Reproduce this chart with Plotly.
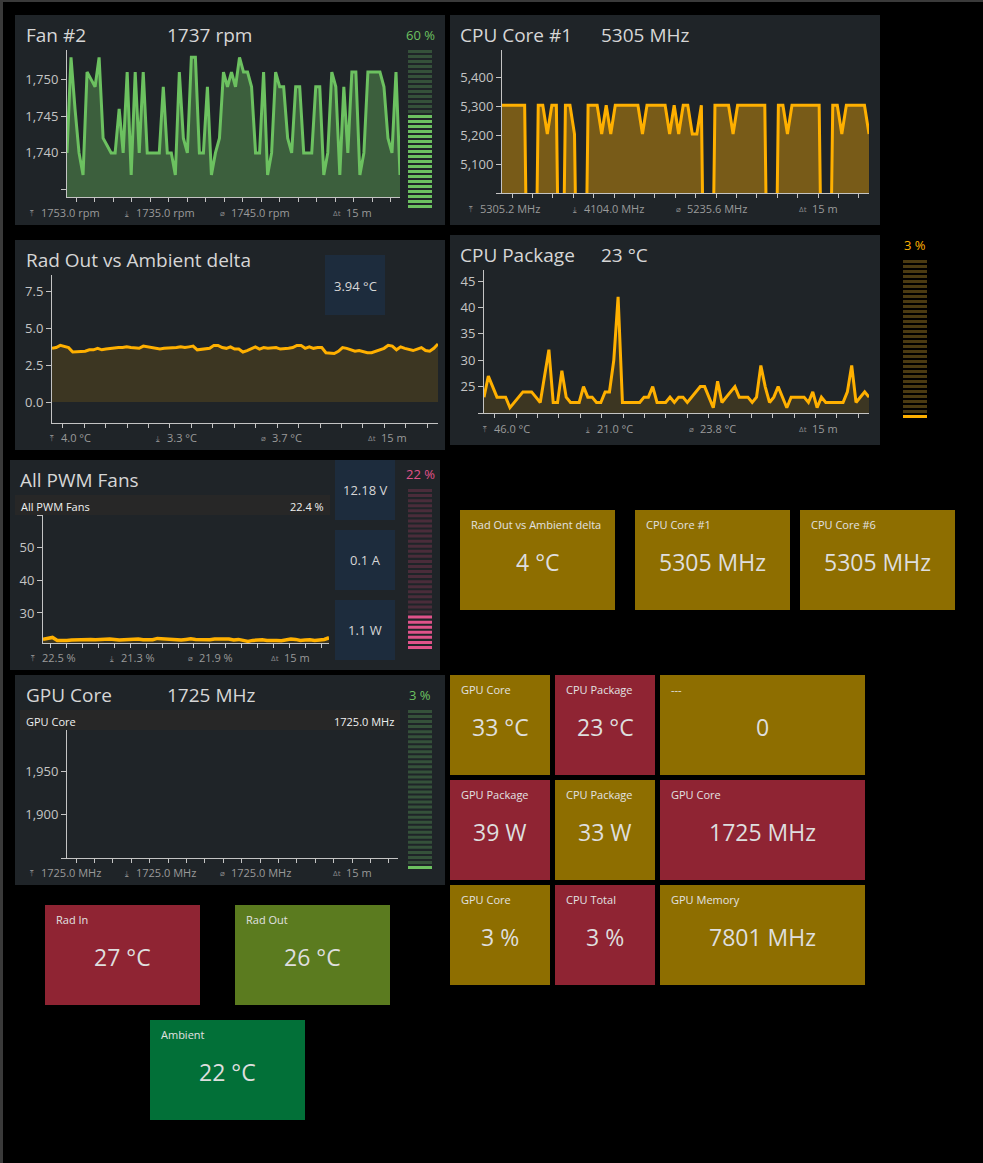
import plotly.graph_objects as go

W, H = 983, 1163
FONT = "Open Sans"
SPAN_S = 900  # 15 minutes of history in every chart

# ---------------- data ----------------
fan2_rpm = [1740, 1753, 1746, 1740, 1737, 1751, 1750, 1749, 1753, 1742, 1741, 1740, 1740, 1746,
            1740, 1751, 1737, 1751, 1740, 1751, 1740, 1740, 1740, 1740, 1749, 1740, 1740, 1737,
            1751, 1742, 1740, 1753, 1753, 1740, 1740, 1749, 1737, 1740, 1742, 1751, 1749, 1751,
            1749, 1753, 1751, 1751, 1749, 1740, 1740, 1751, 1737, 1740, 1751, 1749, 1749, 1742,
            1740, 1749, 1749, 1740, 1740, 1740, 1749, 1749, 1737, 1740, 1751, 1749, 1737, 1749,
            1740, 1751, 1751, 1737, 1740, 1751, 1751, 1751, 1751, 1749, 1742, 1740, 1751, 1737]
fan2_stats = ["1753.0 rpm", "1735.0 rpm", "1745.0 rpm", "15 m"]

cpu_core1_mhz = [5305, 5305, 5305, 5305, 5305, 5305, 4104, 4104, 5305, 5305, 5205, 5305, 5305,
                 4104, 5305, 5305, 5205, 4104, 4104, 5305, 5305, 5305, 5205, 5305, 5205, 5305,
                 5305, 5305, 5305, 5305, 5305, 5205, 5305, 5305, 5305, 5305, 5305, 5205, 5305,
                 5205, 5305, 5305, 5205, 5205, 5305, 4104, 4104, 5305, 5305, 5305, 5305, 5205,
                 5305, 5305, 5305, 5305, 5305, 5305, 5305, 4104, 4104, 5305, 5305, 5205, 5305,
                 5305, 5305, 5305, 5305, 5305, 5305, 4104, 4104, 5305, 5305, 5205, 5305, 5305,
                 5305, 5305, 5305, 5205]
cpu_core1_stats = ["5305.2 MHz", "4104.0 MHz", "5235.6 MHz", "15 m"]

rad_delta_c = [3.65, 3.7, 3.85, 3.8, 3.7, 3.4, 3.4, 3.4, 3.45, 3.55, 3.55, 3.65, 3.55, 3.6, 3.65,
               3.7, 3.7, 3.7, 3.75, 3.7, 3.7, 3.65, 3.8, 3.75, 3.75, 3.7, 3.6, 3.65, 3.65, 3.7,
               3.7, 3.75, 3.7, 3.75, 3.8, 3.55, 3.6, 3.6, 3.65, 3.85, 3.85, 3.7, 3.65, 3.75, 3.6,
               3.6, 3.4, 3.5, 3.65, 3.75, 3.6, 3.7, 3.65, 3.65, 3.7, 3.6, 3.6, 3.65, 3.7, 3.85,
               3.85, 3.65, 3.75, 3.65, 3.7, 3.7, 3.35, 3.3, 3.3, 3.45, 3.7, 3.65, 3.55, 3.45, 3.5,
               3.4, 3.35, 3.35, 3.45, 3.6, 3.65, 3.85, 3.8, 3.55, 3.75, 3.65, 3.55, 3.5, 3.6,
               3.7, 3.5, 3.45, 3.65, 3.95]
rad_delta_stats = ["4.0 °C", "3.3 °C", "3.7 °C", "15 m"]

cpu_package_c = [23, 27, 25, 23, 23, 23, 21, 22, 23, 24, 24, 24, 23, 22, 27, 32, 22, 22, 28, 23,
                 22, 22, 22, 25, 23, 23, 22, 22, 24, 24, 30, 42, 22, 22, 22, 22, 22, 23, 23, 25,
                 22, 22, 22, 23, 22, 23, 23, 22, 23, 24, 25, 25, 23, 21, 26, 22, 23, 24, 25, 23,
                 23, 23, 22, 23, 29, 25, 22, 23, 25, 23, 21, 23, 23, 23, 23, 22, 24, 21, 23, 22,
                 22, 22, 22, 22, 24, 29, 22, 23, 24, 23]
cpu_package_stats = ["46.0 °C", "21.0 °C", "23.8 °C", "15 m"]

pwm_fans_pct = [21.9, 22.3, 22.5, 21.6, 21.5, 21.6, 21.7, 21.8, 21.8, 21.9, 21.9, 21.8, 21.9,
                22.0, 22.0, 21.9, 21.7, 21.8, 21.9, 21.9, 22.0, 21.8, 21.7, 21.8, 22.2, 22.1,
                21.8, 21.8, 21.6, 21.7, 21.9, 22.1, 21.9, 21.8, 21.9, 21.8, 22.0, 22.0, 21.9,
                22.0, 21.7, 21.9, 21.6, 21.3, 21.6, 21.8, 21.8, 21.6, 21.7, 21.6, 21.5, 21.7,
                22.0, 21.9, 21.6, 21.7, 21.8, 21.6, 21.7, 21.9, 22.4]
pwm_fans_stats = ["22.5 %", "21.3 %", "21.9 %", "15 m"]
pwm_readouts = ["12.18 V", "0.1 A", "1.1 W"]

gpu_core_mhz = [1725.0, 1725.0, 1725.0, 1725.0, 1725.0, 1725.0, 1725.0, 1725.0, 1725.0, 1725.0,
                1725.0, 1725.0, 1725.0, 1725.0, 1725.0, 1725.0, 1725.0, 1725.0, 1725.0, 1725.0]
gpu_core_stats = ["1725.0 MHz", "1725.0 MHz", "1725.0 MHz", "15 m"]

gauge_pct = [60, 3, 22, 3]  # fan #2, cpu total, pwm fans, gpu core

tile_labels = ["Rad Out vs Ambient delta", "CPU Core #1", "CPU Core #6",
               "GPU Core", "CPU Package", "---",
               "GPU Package", "CPU Package", "GPU Core",
               "GPU Core", "CPU Total", "GPU Memory",
               "Rad In", "Rad Out", "Ambient"]
tile_values = ["4 °C", "5305 MHz", "5305 MHz",
               "33 °C", "23 °C", "0",
               "39 W", "33 W", "1725 MHz",
               "3 %", "3 %", "7801 MHz",
               "27 °C", "26 °C", "22 °C"]

# ---------------- styles ----------------
BG = "#000000"
PANEL = "#1f2428"
BOX = "#1d2c3d"
STRIP = "#272727"
AXIS = "#c4c4c4"
TXT = "#d6d6d6"
STAT = "#9a9a9a"
AMBER = "#ffb000"
GREEN = "#6cc160"
PINK = "#e0528a"
T_AMBER = "#8e6e00"
T_RED = "#8f2433"
T_OLIVE = "#5b7b1f"
T_GREEN = "#027038"

tile_colors = [T_AMBER, T_AMBER, T_AMBER,
               T_AMBER, T_RED, T_AMBER,
               T_RED, T_AMBER, T_RED,
               T_AMBER, T_RED, T_AMBER,
               T_RED, T_OLIVE, T_GREEN]
tile_boxes = [(460, 510, 615, 610), (635, 510, 790, 610), (800, 510, 955, 610),
              (450, 675, 550, 775), (555, 675, 655, 775), (660, 675, 865, 775),
              (450, 780, 550, 880), (555, 780, 655, 880), (660, 780, 865, 880),
              (450, 885, 550, 985), (555, 885, 655, 985), (660, 885, 865, 985),
              (45, 905, 200, 1005), (235, 905, 390, 1005), (150, 1020, 305, 1120)]


def px(x):
    return x / W


def py(y):
    return 1 - y / H


fig = go.Figure()
shapes = []
annotations = []
n_axes = 0


def rect(x0, y0, x1, y1, color):
    shapes.append(dict(type="rect", xref="paper", yref="paper", layer="below",
                       x0=px(x0), x1=px(x1), y0=py(y1), y1=py(y0),
                       fillcolor=color, line=dict(width=0)))


def text(x, y, s, size, color, anchor="left"):
    annotations.append(dict(x=px(x), y=py(y), xref="paper", yref="paper", text=s,
                            showarrow=False, xanchor=anchor, yanchor="middle",
                            font=dict(size=size, color=color, family=FONT)))


def axis_names():
    global n_axes
    n_axes += 1
    s = "" if n_axes == 1 else str(n_axes)
    return "x" + s, "y" + s, "xaxis" + s, "yaxis" + s


def add_chart(box, values, yrange, tickvals, ticktext, color, fill, width=3):
    x0, y0, x1, y1 = box
    xr, yr, xa, ya = axis_names()
    xs = [i * SPAN_S / (len(values) - 1) for i in range(len(values))]
    fig.add_trace(go.Scatter(x=xs, y=values, mode="lines", xaxis=xr, yaxis=yr,
                             line=dict(color=color, width=width),
                             fill="tozeroy", fillcolor=fill, hoverinfo="skip"))
    fig.update_layout(**{
        xa: dict(domain=[px(x0), px(x1)], anchor=yr, range=[0, SPAN_S],
                 showgrid=False, zeroline=False, showline=True, linecolor=AXIS,
                 linewidth=1, ticks="outside", ticklen=4, tickcolor=AXIS,
                 tick0=25, dtick=50, showticklabels=False, fixedrange=True),
        ya: dict(domain=[py(y1), py(y0)], anchor=xr, range=yrange,
                 showgrid=False, zeroline=False, showline=True, linecolor=AXIS,
                 linewidth=1, ticks="outside", ticklen=5, tickcolor=AXIS,
                 tickmode="array", tickvals=tickvals, ticktext=ticktext,
                 tickfont=dict(size=13, color=AXIS, family=FONT), fixedrange=True),
    })


def add_gauge(box, pct, lit, dim, segments=32):
    x0, y0, x1, y1 = box
    xr, yr, xa, ya = axis_names()
    ys = [(k + 0.5) * 100 / segments for k in range(segments)]
    cols = [lit if v <= pct else dim for v in ys]
    fig.add_trace(go.Scatter(x=[0.5] * segments, y=ys, mode="markers", xaxis=xr, yaxis=yr,
                             marker=dict(symbol="line-ew", size=x1 - x0,
                                         line=dict(width=3, color=cols)),
                             hoverinfo="skip"))
    hidden = dict(visible=False, fixedrange=True)
    fig.update_layout(**{
        xa: dict(domain=[px(x0), px(x1)], anchor=yr, range=[0, 1], **hidden),
        ya: dict(domain=[py(y1), py(y0)], anchor=xr, range=[0, 100], **hidden),
    })
    text((x0 + x1) / 2, y0 - 14, f"{pct} %", 13, lit, "center")


def add_stats(y, xs, labels):
    icons = ["⤒", "⤓", "⌀", "Δt"]
    for x, ic, lab in zip(xs, icons, labels):
        text(x - 4, y, ic, 8, "#8a8a8a", "center")
        text(x + 3, y, lab, 11, STAT)


# ---------------- panels ----------------
rect(0, 0, 3, H, "#3a3a3a")
rect(0, 0, W, 2, "#3a3a3a")
for p in [(15, 15, 445, 225), (450, 15, 880, 225), (15, 240, 445, 450),
          (450, 235, 880, 445), (10, 460, 440, 670), (15, 675, 445, 885)]:
    rect(*p, PANEL)

# Fan #2
add_chart((67, 50, 400, 197), fan2_rpm, [1734, 1754], [1735, 1740, 1745, 1750],
          ["", "1,740", "1,745", "1,750"], GREEN, "rgba(108,193,96,0.38)")
add_gauge((408, 49, 432, 209), gauge_pct[0], GREEN, "#35513a")
text(24, 35, "Fan #2", 19, TXT)
text(165, 35, "1737 rpm", 19, TXT)
add_stats(212, [36, 131, 226, 341], fan2_stats)

# CPU Core #1
add_chart((502, 50, 869, 193), cpu_core1_mhz, [5000, 5497], [5000, 5100, 5200, 5300, 5400],
          ["", "5,100", "5,200", "5,300", "5,400"], AMBER, "rgba(255,176,0,0.40)")
text(458, 35, "CPU Core #1", 19, TXT)
text(599, 35, "5305 MHz", 19, TXT)
add_stats(208, [475, 579, 682, 807], cpu_core1_stats)

# Rad Out vs Ambient delta
add_chart((52, 275, 438, 423), rad_delta_c, [-1.42, 8.63], [0, 2.5, 5, 7.5],
          ["0.0", "2.5", "5.0", "7.5"], AMBER, "rgba(255,176,0,0.13)")
text(24, 260, "Rad Out vs Ambient delta", 19, TXT)
rect(325, 255, 385, 315, BOX)
text(355, 286, "3.94 °C", 13, TXT, "center")
add_stats(438, [56, 162, 267, 376], rad_delta_stats)

# CPU Package
add_chart((484, 270, 869, 413), cpu_package_c, [20, 47.1], [20, 25, 30, 35, 40, 45],
          ["", "25", "30", "35", "40", "45"], AMBER, "rgba(255,176,0,0.13)")
add_gauge((903, 259, 927, 419), gauge_pct[1], AMBER, "#4a3a12")
text(458, 255, "CPU Package", 19, TXT)
text(599, 255, "23 °C", 19, TXT)
add_stats(428, [489, 592, 695, 807], cpu_package_stats)

# All PWM Fans
rect(15, 495, 330, 515, STRIP)
add_chart((43, 515, 329, 643), pwm_fans_pct, [20.8, 60], [30, 40, 50, 60],
          ["30", "40", "50", ""], AMBER, "rgba(255,176,0,0.13)", width=3.5)
add_gauge((408, 488, 432, 650), gauge_pct[2], PINK, "#4a2c3a")
text(18, 480, "All PWM Fans", 19, TXT)
text(19, 506, "All PWM Fans", 11, "#f0f0f0")
text(326, 506, "22.4 %", 11, "#f0f0f0", "right")
for (y0, y1), s in zip([(460, 520), (530, 590), (600, 660)], pwm_readouts):
    rect(335, y0, 395, y1, BOX)
    text(365, (y0 + y1) / 2, s, 13, TXT, "center")
add_stats(657, [37, 116, 194, 279], pwm_fans_stats)

# GPU Core
rect(20, 710, 400, 730, STRIP)
add_chart((67, 730, 398, 858), gpu_core_mhz, [1850, 1998], [1850, 1900, 1950],
          ["", "1,900", "1,950"], GREEN, "rgba(108,193,96,0.38)")
add_gauge((408, 709, 432, 870), gauge_pct[3], GREEN, "#35513a")
text(24, 695, "GPU Core", 19, TXT)
text(165, 695, "1725 MHz", 19, TXT)
text(24, 721, "GPU Core", 11, "#f0f0f0")
text(396, 721, "1725.0 MHz", 11, "#f0f0f0", "right")
add_stats(872, [36, 131, 226, 341], gpu_core_stats)

# ---------------- tiles ----------------
for (x0, y0, x1, y1), lab, val, col in zip(tile_boxes, tile_labels, tile_values, tile_colors):
    rect(x0, y0, x1, y1, col)
    text(x0 + 9, y0 + 14, lab, 11, "#e2e2e2")
    text((x0 + x1) / 2, y0 + 52, val, 23, "#dedede", "center")

fig.update_layout(
    width=W, height=H,
    margin=dict(l=0, r=0, t=0, b=0),
    paper_bgcolor=BG, plot_bgcolor="rgba(0,0,0,0)",
    showlegend=False,
    shapes=shapes, annotations=annotations,
    font=dict(family=FONT, color=TXT),
)

fig.write_html("out.html", config={"displayModeBar": False},
               post_script="document.body.style.margin='0';"
                           "document.body.style.background='#000';"
                           "document.body.style.overflow='hidden';")
